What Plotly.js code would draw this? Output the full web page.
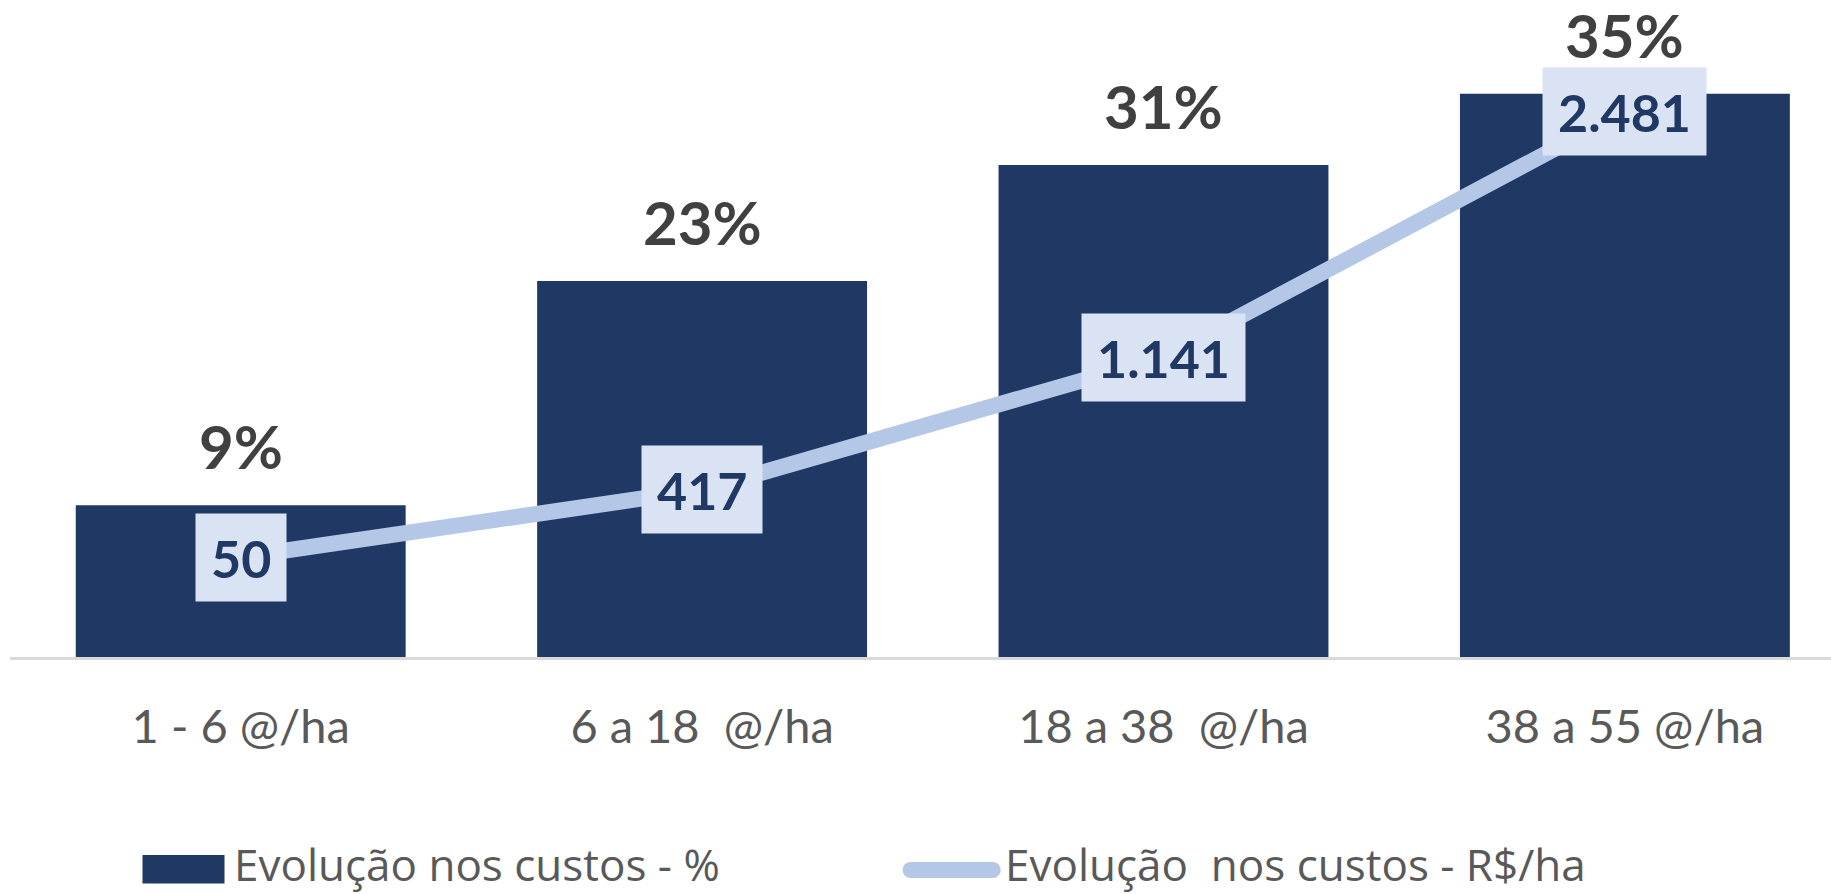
<!DOCTYPE html>
<html>
<head>
<meta charset="utf-8">
<script src="https://cdn.plot.ly/plotly-3.0.1.min.js"></script>
<style>html,body{margin:0;padding:0;background:#fff;}#chart{width:1831px;height:894px;}</style>
</head>
<body>
<div id="chart"></div>
<script>
// ---- data ----
var categories = ["1 - 6 @/ha", "6 a 18\u00a0 @/ha", "18 a 38\u00a0 @/ha", "38 a 55 @/ha"];
var costPct = [9.43, 23.36, 30.57, 35.0];          // bar heights (%)
var costPctLabels = ["9%", "23%", "31%", "35%"];
var costRs = [50, 417, 1141, 2481];                // R$/ha
var costRsLabels = ["50", "417", "1.141", "2.481"];
var seriesNames = ["Evolução nos custos - %", "Evolução\u00a0 nos custos - R$/ha"];

// ---- style ----
var barColor = "#203864";
var lineColor = "#B4C7E7";
var boxColor = "#DAE3F3";
var W = 1831, H = 894;
var mL = 10, mR = 0, mT = 20, mB = 237;
var plotW = W - mL - mR, plotH = H - mT - mB;
function px(x) { return (x - mL) / plotW; }
function py(y) { return (H - mB - y) / plotH; }

var traces = [
  {
    type: "bar", x: categories, y: costPct, name: seriesNames[0],
    marker: { color: barColor }, hoverinfo: "x+y", showlegend: false
  },
  {
    type: "scatter", mode: "lines", x: categories, y: costRs, name: seriesNames[1],
    yaxis: "y2", line: { color: lineColor, width: 16 }, showlegend: false
  }
];

var annotations = [];
categories.forEach(function (c, i) {
  annotations.push({
    x: c, y: costPct[i], xref: "x", yref: "y", text: costPctLabels[i],
    showarrow: false, yanchor: "middle", yshift: 59,
    font: { family: "Lato", size: 60, color: "#404040", weight: "bold" }
  });
  annotations.push({
    x: c, y: costRs[i], xref: "x", yref: "y2", text: costRsLabels[i],
    showarrow: false, xanchor: "center", yanchor: "middle",
    bgcolor: boxColor, borderpad: 15, height: 57,
    font: { family: "Lato", size: 52, color: barColor, weight: "bold" }
  });
});

// legend drawn as shapes + text
var legFont = { family: "Open Sans", size: 44, color: "#595959" };
annotations.push({
  xref: "paper", yref: "paper", x: px(232), y: py(863.5), xanchor: "left", yanchor: "middle",
  text: seriesNames[0], showarrow: false, font: legFont
});
annotations.push({
  xref: "paper", yref: "paper", x: px(1003), y: py(863.5), xanchor: "left", yanchor: "middle",
  text: seriesNames[1], showarrow: false, font: legFont
});

var shapes = [
  { type: "rect", xref: "paper", yref: "paper", x0: px(142.5), x1: px(224.5), y0: py(883.5), y1: py(855),
    fillcolor: barColor, line: { width: 0 } },
  { type: "rect", xref: "paper", yref: "paper", x0: px(910.6), x1: px(992.7), y0: py(878), y1: py(862),
    fillcolor: lineColor, line: { width: 0 } },
  { type: "circle", xref: "paper", yref: "paper", x0: px(902.6), x1: px(918.6), y0: py(878), y1: py(862),
    fillcolor: lineColor, line: { width: 0 } },
  { type: "circle", xref: "paper", yref: "paper", x0: px(984.7), x1: px(1000.7), y0: py(878), y1: py(862),
    fillcolor: lineColor, line: { width: 0 } }
];

var layout = {
  width: W, height: H,
  margin: { l: mL, r: mR, t: mT, b: mB, pad: 0 },
  paper_bgcolor: "#ffffff", plot_bgcolor: "#ffffff",
  bargap: 0.285,
  showlegend: false,
  xaxis: {
    type: "category", range: [-0.5, -0.5 + plotW / 461.4],
    showgrid: false, zeroline: false, showline: true, linecolor: "#D9D9D9", linewidth: 2.5,
    ticks: "", ticklabelstandoff: 27,
    tickfont: { family: "Lato", size: 47, color: "#595959" }, fixedrange: true
  },
  yaxis: {
    range: [0, plotH / 16.094], visible: false, showgrid: false, zeroline: false, fixedrange: true
  },
  yaxis2: {
    overlaying: "y", side: "right", range: [-495.5, 2980.5],
    visible: false, showgrid: false, zeroline: false, fixedrange: true
  },
  annotations: annotations,
  shapes: shapes
};

Plotly.newPlot("chart", traces, layout, { displayModeBar: false, staticPlot: true });
</script>
</body>
</html>
